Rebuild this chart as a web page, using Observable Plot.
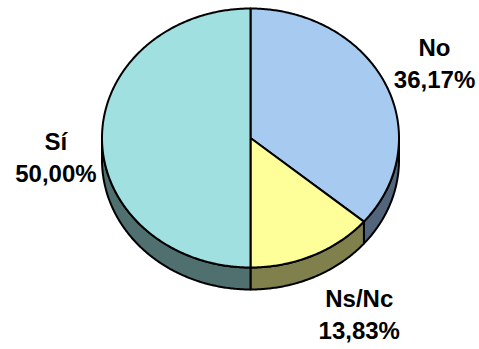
<!DOCTYPE html>
<html>
<head>
<meta charset="utf-8">
<script src="https://cdn.jsdelivr.net/npm/d3@7"></script>
<script src="https://cdn.jsdelivr.net/npm/@observablehq/plot@0.6"></script>
<style>html,body{margin:0;padding:0;background:#fff}svg{display:block}</style>
</head>
<body>
<div id="chart"></div>
<script>
const categories = ["No", "Ns/Nc", "Sí"];
const shares = [36.17, 13.83, 50.00];
const valueLabels = ["36,17%", "13,83%", "50,00%"];
const topColors = ["#A6CAF0", "#FFFF99", "#A0E0E0"];
const sideColors = ["#53657A", "#80804D", "#507070"];

// Layout
const depth = 0.17;                 // extrusion, in unit-ellipse heights
const labelRadius = [1.37, 1.5, 1.3];
const labelShift = [[-0.5, -1.5], [15, -1.5], [-1.5, 17.5]];
const total = d3.sum(shares);
const ends = d3.cumsum(shares).map(v => v / total * 2 * Math.PI);
const slices = categories.map((name, i) => ({
  name, i, a0: i ? ends[i - 1] : 0, a1: ends[i],
  mid: ((i ? ends[i - 1] : 0) + ends[i]) / 2
}));

const arcPts = (a0, a1, off = 0) => {
  const n = Math.max(2, Math.ceil((a1 - a0) / 0.01));
  return d3.range(n + 1).map(k => {
    const a = a0 + (a1 - a0) * k / n;
    return {x: Math.sin(a), y: Math.cos(a) - off};
  });
};
const topPts = s => [{x: 0, y: 0}, ...arcPts(s.a0, s.a1)];
const sidePts = s => {
  const lo = Math.max(s.a0, Math.PI / 2), hi = Math.min(s.a1, 3 * Math.PI / 2);
  if (lo >= hi) return [];
  return [...arcPts(lo, hi), ...arcPts(lo, hi, depth).reverse()];
};
const face = (pts, fill) => Plot.line(pts, {
  x: "x", y: "y", fill, stroke: "#000", strokeWidth: 2,
  curve: "linear-closed", strokeLinejoin: "round"
});

const labelMarks = slices.map(s => {
  const r = labelRadius[s.i];
  return Plot.text([categories[s.i] + "\n" + valueLabels[s.i]], {
    x: () => Math.sin(s.mid) * r,
    y: () => Math.cos(s.mid) * r,
    text: d => d,
    dx: labelShift[s.i][0],
    dy: labelShift[s.i][1],
    fontFamily: "Liberation Sans, Arial, sans-serif",
    fontWeight: "bold",
    fontSize: 24,
    lineHeight: 1.33,
    fill: "#000"
  });
});

const chart = Plot.plot({
  width: 479,
  height: 349,
  margin: 0,
  style: {background: "#fff"},
  x: {axis: null, domain: [-1, 1], range: [101.5, 398.5]},
  y: {axis: null, domain: [-1, 1], range: [267, 8]},
  marks: [
    ...slices.map(s => face(sidePts(s), sideColors[s.i])),
    ...slices.map(s => face(topPts(s), topColors[s.i])),
    ...labelMarks
  ]
});
document.getElementById("chart").append(chart);
</script>
</body>
</html>
